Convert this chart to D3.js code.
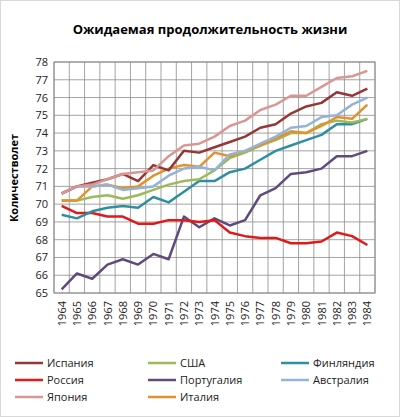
<!DOCTYPE html><html><head><meta charset="utf-8"><script src="https://cdn.jsdelivr.net/npm/d3@7"></script>
<style>body{margin:0;background:#fff}text{font-family:"Open Sans",Calibri,Arial,sans-serif}</style></head><body><svg id="c" width="400" height="417"></svg>
<script>
const years=d3.range(1964,1985).map(String);
const yTicks=d3.range(65,79);
const names=["Испания","США","Финляндия","Россия","Португалия","Австралия","Япония","Италия"];
const colors=["#953735","#9BBB59","#2E8FA0","#E0191B","#604A7B","#95B3D7","#D99694","#E3912C"];
const spain=[70.6,71.0,71.2,71.4,71.7,71.3,72.2,71.9,73.0,72.9,73.2,73.5,73.8,74.3,74.5,75.1,75.5,75.7,76.3,76.1,76.5];
const usa=[70.2,70.2,70.4,70.5,70.3,70.5,70.8,71.1,71.3,71.4,71.9,72.6,72.9,73.3,73.6,74.0,74.0,74.5,74.7,74.6,74.8];
const finland=[69.4,69.2,69.6,69.8,69.9,69.8,70.4,70.1,70.7,71.3,71.3,71.8,72.0,72.5,73.0,73.3,73.6,73.9,74.5,74.5,74.8];
const russia=[69.9,69.5,69.5,69.3,69.3,68.9,68.9,69.1,69.1,69.0,69.1,68.4,68.2,68.1,68.1,67.8,67.8,67.9,68.4,68.2,67.7];
const portugal=[65.2,66.1,65.8,66.6,66.9,66.6,67.2,66.9,69.3,68.7,69.2,68.8,69.1,70.5,70.9,71.7,71.8,72.0,72.7,72.7,73.0];
const australia=[70.6,71.0,71.0,71.1,70.8,70.9,71.0,71.6,72.0,72.1,71.9,72.8,73.0,73.4,73.8,74.3,74.4,74.9,75.0,75.6,76.0];
const japan=[70.6,71.0,71.1,71.4,71.7,71.8,71.9,72.7,73.3,73.4,73.8,74.4,74.7,75.3,75.6,76.1,76.1,76.6,77.1,77.2,77.5];
const italy=[70.2,70.2,71.0,71.1,70.9,71.0,71.6,72.0,72.2,72.1,72.9,72.7,73.0,73.3,73.7,74.1,74.0,74.4,74.9,74.8,75.6];
const series=[spain,usa,finland,russia,portugal,australia,japan,italy];
const drawOrder=[4,3,2,1,7,5,0,6];
const svg=d3.select("#c");
svg.append("rect").attr("x",0.5).attr("y",0.5).attr("width",399).attr("height",416).attr("fill","#fff").attr("stroke","#d9d9d9");
const L=54,R=375,T=62,B=293;
const x=d3.scaleBand().domain(years).range([L,R]);
const y=d3.scaleLinear().domain([65,78]).range([B,T]);
const g=svg.append("g");
g.selectAll(".h").data(yTicks).join("line").attr("x1",L).attr("x2",R).attr("y1",d=>y(d)).attr("y2",d=>y(d)).attr("stroke","#8c8c8c").attr("stroke-width",0.8);
const bounds=years.map(d=>x(d)).concat([R]);
g.selectAll(".v").data(bounds).join("line").attr("x1",d=>d).attr("x2",d=>d).attr("y1",T).attr("y2",B).attr("stroke","#8c8c8c").attr("stroke-width",0.8);
g.append("rect").attr("x",L).attr("y",T).attr("width",R-L).attr("height",B-T).attr("fill","none").attr("stroke","#8c8c8c");
g.selectAll(".yt").data(yTicks).join("text").attr("x",L-6).attr("y",d=>y(d)+4).attr("text-anchor","end").attr("font-size",11).attr("fill","#222").text(d=>d);
g.selectAll(".xt").data(years).join("text").attr("transform",d=>`translate(${x(d)+x.bandwidth()/2+4},${B+8}) rotate(-90)`).attr("text-anchor","end").attr("font-size",11).attr("fill","#222").text(d=>d);
const line=d3.line().x((d,i)=>x(years[i])+x.bandwidth()/2).y(d=>y(d));
drawOrder.forEach(i=>g.append("path").attr("d",line(series[i])).attr("fill","none").attr("stroke",colors[i]).attr("stroke-width",2.5).attr("stroke-linejoin","round"));
svg.append("text").attr("x",210).attr("y",34).attr("text-anchor","middle").attr("font-size",13).attr("font-weight","bold").text("Ожидаемая продолжительность жизни");
svg.append("text").attr("transform","translate(18,178) rotate(-90)").attr("text-anchor","middle").attr("font-size",11).attr("font-weight","bold").text("Количестволет");
const lg=svg.append("g");
names.forEach((n,i)=>{const cx=15+(i%3)*133,cy=363+Math.floor(i/3)*17;
lg.append("line").attr("x1",cx).attr("x2",cx+28).attr("y1",cy).attr("y2",cy).attr("stroke",colors[i]).attr("stroke-width",2.5);
lg.append("text").attr("x",cx+32).attr("y",cy+4).attr("font-size",11).attr("fill","#222").text(n);});
</script></body></html>
